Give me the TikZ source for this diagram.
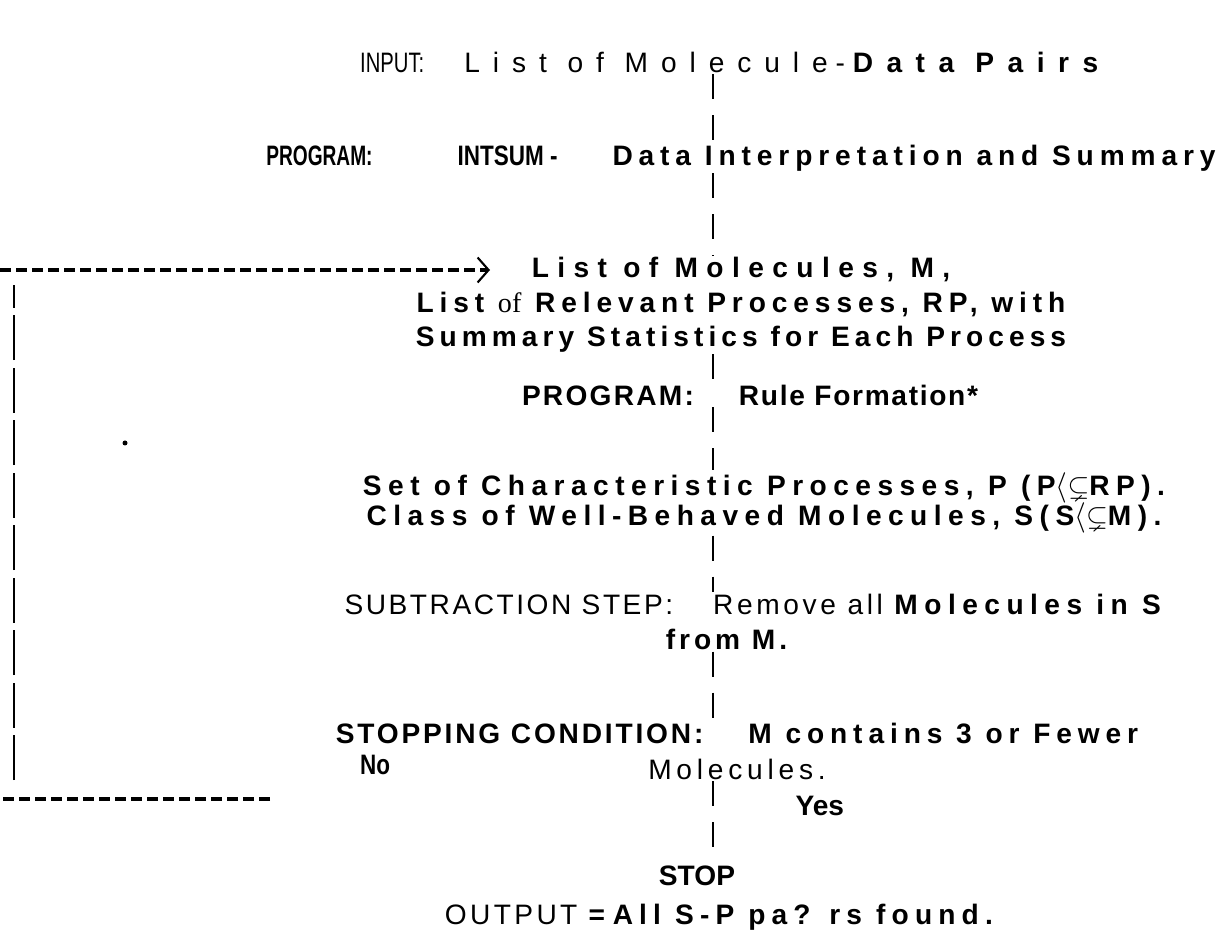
\documentclass[tikz,border=0pt]{standalone}
\usepackage{fontspec}
\setmainfont{Liberation Sans}
\newfontfamily\serifpart{Liberation Serif}
\usepackage{amssymb}
\usepackage{tikz}
\usetikzlibrary{arrows.meta, positioning}
\newcommand{\spaced}[2]{{\addfontfeature{LetterSpace=#1}#2}}
\newcommand{\squeezed}[2]{{\addfontfeature{FakeStretch=#1}#2}}
\tikzstyle{stage} = [align=center, inner sep=1pt, font=\fontsize{16}{19.5}\selectfont]
\tikzstyle{boldstage} = [stage, font=\fontsize{16}{19.5}\selectfont\bfseries]
\tikzstyle{flow} = [line width=1pt, dash pattern=on 0.5cm off 0.32cm]
\tikzstyle{backline} = [line width=2.3pt, dash pattern=on 0.22cm off 0.1cm]
\tikzstyle{backrail} = [line width=1.4pt, dash pattern=on 0.9cm off 0.15cm]
\tikzstyle{backarrow} = [backline, -{Straight Barb[length=0.22cm, width=0.5cm, line width=1.2pt]}]

\begin{document}
\begin{tikzpicture}[node distance=2cm]
\useasboundingbox (0,0) rectangle (24.5,-18.86);

% Stages of the procedure
\node (input) [stage] at (14.72,-1.24) {\squeezed{0.72}{INPUT:}\hspace{0.8cm}\spaced{46}{List of Molecule} - \textbf{\spaced{48}{Data Pairs}}};
\node (intsum) [boldstage, below of=input, xshift=0.1cm, yshift=0.08cm] {\squeezed{0.68}{PROGRAM:}\hspace{1.7cm}\squeezed{0.8}{INTSUM -}\hspace{1.1cm}\spaced{21}{Data Interpretation and Summary}};
\node (molecules) [boldstage, below of=intsum, yshift=-0.94cm] {\spaced{30}{List of Molecules, M,}\\
  \spaced{21}{List {\mdseries\serifpart of} Relevant Processes, RP, with}\\
  \spaced{18}{Summary Statistics for Each Process}};
\node (rule) [boldstage, below of=molecules, xshift=0.18cm, yshift=0.2cm] {\spaced{8}{PROGRAM:}\hspace{0.9cm}\spaced{6}{Rule Formation*}};
\node (charset) [boldstage, below of=rule, xshift=0.28cm, yshift=-0.16cm] {\spaced{23}{Set of Characteristic Processes, P (P$\langle\subsetneq$RP).}\\[-2pt]
  \spaced{23}{Class of Well-Behaved Molecules, S(S$\langle\subsetneq$M).}};
\node (subtract) [stage, below of=charset, xshift=-0.16cm, yshift=-0.38cm] {\spaced{9}{SUBTRACTION STEP:}\hspace{0.8cm}\spaced{13}{Remove all} \textbf{\spaced{23}{Molecules in S}}\\
  \textbf{\spaced{14}{from M.}}\hspace{1.1cm}\null};
\node (stopcond) [stage, below of=subtract, xshift=-0.38cm, yshift=-0.58cm] {\bfseries\spaced{10}{STOPPING CONDITION:}\hspace{0.9cm}\spaced{21}{M contains 3 or Fewer}\\[1pt]
  \spaced{17}{Molecules.}};
\node (stopout) [stage, below of=stopcond, xshift=-0.3cm, yshift=-0.94cm] {\textbf{STOP}\hspace{1cm}\null\\[3pt]
  \spaced{12}{OUTPUT} \textbf{= \spaced{22}{All S-P pa? rs found.}}};
\node (no) [boldstage, left of=stopcond, xshift=-5.24cm, yshift=-0.27cm] {\squeezed{0.8}{No}};

% Main line down the middle
\coordinate (spine) at (14.26,0);
\draw [flow] (input.south -| spine) -- (intsum.north -| spine);
\draw [flow] (intsum.south -| spine) -- (molecules.north -| spine);
\draw [flow] (molecules.south -| spine) -- (rule.north -| spine);
\draw [flow] (rule.south -| spine) -- (charset.north -| spine);
\draw [flow] (charset.south -| spine) -- (subtract.north -| spine);
\draw [flow] (subtract.south -| spine) -- (stopcond.north -| spine);
\draw [flow] (stopcond.south -| spine) -- node[boldstage, pos=0.3, anchor=west, xshift=1.6cm] (yes) {Yes} (stopout.north -| spine);

% Way back when the condition fails
\coordinate (nostart) at (5.4,-15.98);
\coordinate (nofoot) at (0,-15.98);
\coordinate (railbot) at (0.28,-15.6);
\coordinate (railtop) at (0.28,-5.7);
\coordinate (backfrom) at (0,-5.4);
\coordinate (backto) at (9.8,-5.4);
\draw [backline] (nostart) -- (nofoot);
\draw [backrail] (railbot) -- (railtop);
\draw [backarrow] (backfrom) -- (backto);

\fill (2.5,-8.86) circle (0.05);

\end{tikzpicture}
\end{document}
